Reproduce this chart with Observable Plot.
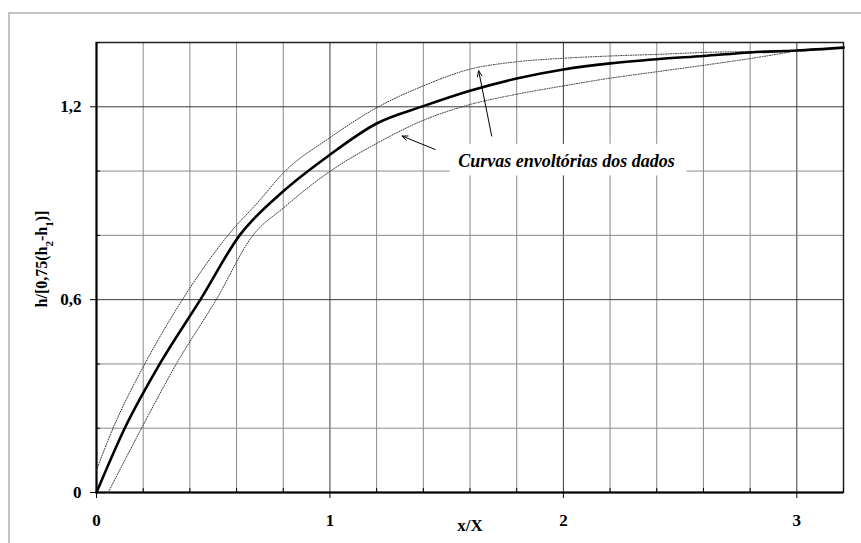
<!DOCTYPE html>
<html>
<head>
<meta charset="utf-8">
<script src="https://cdn.jsdelivr.net/npm/d3@7"></script>
<script src="https://cdn.jsdelivr.net/npm/@observablehq/plot@0.6"></script>
<style>
  html, body { margin: 0; padding: 0; background: #fff; overflow: hidden; }
  #wrap { position: relative; width: 861px; height: 543px; }
  #border { position: absolute; left: 8px; top: 12px; width: 900px; height: 600px;
            border-left: 2px solid #c4c4c4; border-top: 2px solid #c4c4c4; box-sizing: border-box; }
  #chart { position: absolute; left: 0; top: 0; }
  #chart svg text { font-family: "Liberation Serif", serif !important; font-weight: bold !important; }
  #chart svg .note text { font-style: italic; }
</style>
</head>
<body>
<div id="wrap"><div id="border"></div><div id="chart"></div></div>
<script>
// ---- data ----
const mainX  = [0, 0.121, 0.271, 0.445, 0.613, 0.8, 1.0, 1.2, 1.4, 1.6, 1.8, 2.0, 2.2, 2.4, 2.6, 2.8, 3.0, 3.2];
const mainY  = [0, 0.2, 0.4, 0.6, 0.8, 0.937, 1.051, 1.148, 1.202, 1.250, 1.288, 1.316, 1.335, 1.348, 1.358, 1.369, 1.375, 1.384];

const upperX = [0, 0.071, 0.207, 0.368, 0.563, 0.70, 0.8, 1.0, 1.2, 1.4, 1.6, 1.8, 2.0, 2.2, 2.4, 2.6, 2.8, 2.97];
const upperY = [0.07, 0.2, 0.4, 0.6, 0.8, 0.91, 0.994, 1.104, 1.197, 1.265, 1.317, 1.340, 1.351, 1.358, 1.363, 1.369, 1.372, 1.375];

const lowerX = [0.05, 0.193, 0.342, 0.513, 0.67, 0.8, 1.0, 1.2, 1.4, 1.6, 1.8, 2.0, 2.2, 2.4, 2.6, 2.8, 2.97];
const lowerY = [0, 0.2, 0.4, 0.6, 0.8, 0.885, 0.999, 1.086, 1.158, 1.207, 1.239, 1.265, 1.289, 1.309, 1.329, 1.350, 1.37];

const xMajorTicks = [0, 1, 2, 3];
const xMinorTicks = [0.2, 0.4, 0.6, 0.8, 1.2, 1.4, 1.6, 1.8, 2.2, 2.4, 2.6, 2.8, 3.2];
const yMajorTicks = [0, 0.6, 1.2];
const yMinorTicks = [0.2, 0.4, 0.8, 1.0, 1.4];

const noteText = ["Curvas envoltórias dos dados"];
const noteAnchor = [{x: 2.013, y: 1.03}];
const noteBox = [{x1: 1.515, x2: 2.53, y1: 0.985, y2: 1.083}];
const arrows = [
  {x1: 1.451, y1: 1.067, x2: 1.309, y2: 1.109},
  {x1: 1.693, y1: 1.109, x2: 1.637, y2: 1.312}
];
const xLabel = "x/X";

// ---- tables ----
const mainData  = mainX.map((x, i) => ({x, y: mainY[i]}));
const upperData = upperX.map((x, i) => ({x, y: upperY[i]}));
const lowerData = lowerX.map((x, i) => ({x, y: lowerY[i]}));
const fmtY = d => d === 0 ? "0" : d.toFixed(1).replace(".", ",");
const fmtX = d => String(d);
const FONT = "Liberation Serif, serif";

const chart = Plot.plot({
  width: 861,
  height: 543,
  marginLeft: 96,
  marginRight: 18,
  marginTop: 42,
  marginBottom: 51,
  style: {fontFamily: FONT, fontSize: "17px", fontWeight: "bold", background: "transparent", color: "#000"},
  x: {domain: [0, 3.2]},
  y: {domain: [0, 1.4]},
  marks: [
    Plot.gridX(xMinorTicks.filter(d => d < 3.2), {stroke: "#8a8a8a", strokeOpacity: 1}),
    Plot.gridX([1, 2, 3], {stroke: "#3a3a3a", strokeOpacity: 1}),
    Plot.gridY([0.2, 0.4, 0.8, 1.0], {stroke: "#8a8a8a", strokeOpacity: 1}),
    Plot.gridY([0.6, 1.2], {stroke: "#3a3a3a", strokeOpacity: 1}),
    Plot.rect(noteBox, {x1: "x1", x2: "x2", y1: "y1", y2: "y2", fill: "white"}),
    Plot.frame({stroke: "#222", strokeWidth: 1.5}),
    Plot.ruleY([0], {stroke: "#000", strokeWidth: 2}),
    Plot.ruleX([0], {stroke: "#000", strokeWidth: 2}),
    Plot.line(upperData, {x: "x", y: "y", curve: "monotone-x", stroke: "#333", strokeWidth: 1, strokeDasharray: "1,1.5"}),
    Plot.line(lowerData, {x: "x", y: "y", curve: "monotone-x", stroke: "#333", strokeWidth: 1, strokeDasharray: "1,1.5"}),
    Plot.line(mainData, {x: "x", y: "y", curve: "monotone-x", stroke: "#000", strokeWidth: 2.6, strokeLinejoin: "round"}),
    Plot.arrow(arrows, {x1: "x1", y1: "y1", x2: "x2", y2: "y2", stroke: "#000", strokeWidth: 1, headLength: 9, headAngle: 45}),
    Plot.text(noteText, {x: () => noteAnchor[0].x, y: () => noteAnchor[0].y, text: d => d, fontStyle: "italic", fontWeight: "bold", fontSize: 18, fill: "#000", textAnchor: "middle", className: "note"}),
    Plot.axisX(xMajorTicks, {tickSize: 6, tickPadding: 15, tickFormat: fmtX, label: null, fontSize: 17, fontWeight: "bold"}),
    Plot.axisX(xMinorTicks, {tickSize: 4, text: null, dy: -4, label: null}),
    Plot.axisY(yMajorTicks, {tickSize: 6, tickPadding: 9, tickFormat: fmtY, label: null, fontSize: 17, fontWeight: "bold"}),
    Plot.axisY(yMinorTicks, {tickSize: 4, text: null, dx: 4, label: null}),
    Plot.text([xLabel], {frameAnchor: "bottom", dy: 38, text: d => d, fontSize: 17, fontWeight: "bold"})
  ]
});

document.getElementById("chart").appendChild(chart);

// y-axis label with subscripts (real text)
const svg = d3.select(chart);
const yl = svg.append("text")
  .attr("transform", "translate(47,259) rotate(-90)")
  .attr("text-anchor", "middle")
  .attr("font-size", 16)
  .attr("fill", "#000");
yl.append("tspan").text("h/[0,75(h");
yl.append("tspan").attr("baseline-shift", "sub").attr("font-size", 11).text("2");
yl.append("tspan").text("-h");
yl.append("tspan").attr("baseline-shift", "sub").attr("font-size", 11).text("1");
yl.append("tspan").text(")]");
</script>
</body>
</html>
